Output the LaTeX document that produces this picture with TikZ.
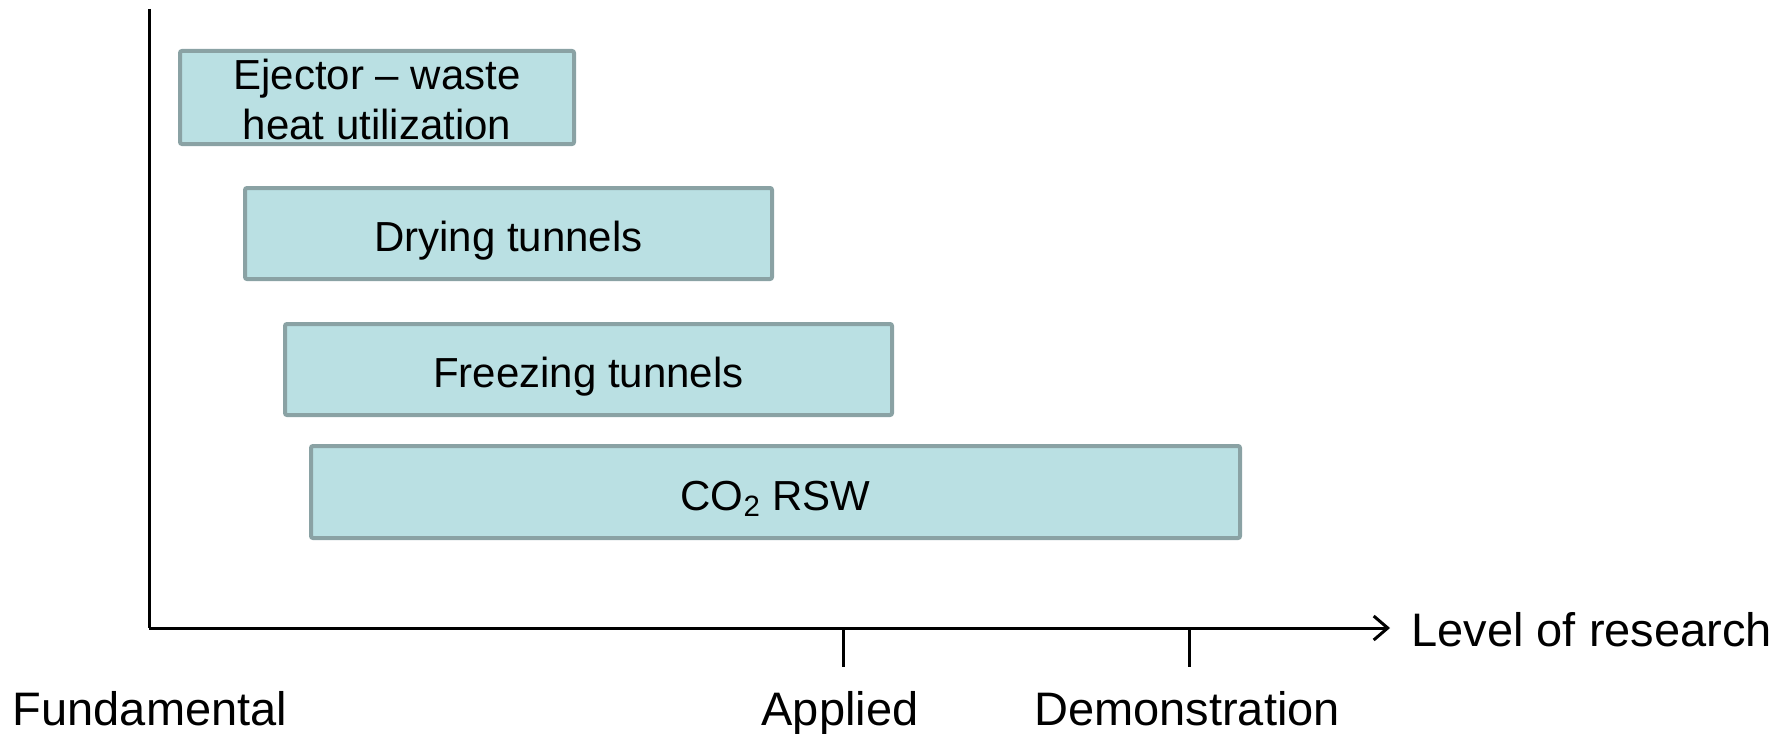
\documentclass[tikz,border=0pt]{standalone}
\usepackage{fontspec}
\setmainfont{Liberation Sans}
\usetikzlibrary{arrows.meta}
\definecolor{barfill}{HTML}{BAE0E3}
\definecolor{barline}{HTML}{8AA2A4}
% sets a label a little below the centre of its bar, keeping its size
\newcommand\droplabel[2][3.4pt]{\raisebox{-#1}[\height][\depth]{#2}}
\tikzset{
  bar/.style={draw=barline, fill=barfill, line width=2pt, rounded corners=1pt,
    inner sep=0pt, align=center, font=\fontsize{21}{25}\selectfont},
  axisline/.style={line width=1.5pt, black},
  axislabel/.style={font=\fontsize{23.5}{28}\selectfont, inner sep=0pt},
}
\begin{document}
\begin{tikzpicture}[x=0.5pt, y=-0.5pt]
  \useasboundingbox (0,0) rectangle (1787,733);

  % research activities
  \node[bar, minimum width=197pt, minimum height=46.5pt] (ejector) at (377,97.5)
    {\droplabel[1pt]{Ejector -- waste}\\\droplabel[1pt]{heat utilization}};
  \node[bar, minimum width=263.5pt, minimum height=45.5pt] (drying) at (508.5,233.5)
    {\droplabel{Drying tunnels}};
  \node[bar, minimum width=303.5pt, minimum height=45.5pt] (freezing) at (588.5,369.5)
    {\droplabel{Freezing tunnels}};
  \node[bar, minimum width=464.5pt, minimum height=46pt] (rsw) at (775.5,492)
    {\droplabel{CO\textsubscript{2} RSW}};

  % axes
  \coordinate (origin) at (149,628);
  \coordinate (ytop) at (149,9);
  \coordinate (xend) at (1390,628);
  \coordinate (tapp) at (843,628);
  \coordinate (tappb) at (843,667);
  \coordinate (tdem) at (1189,628);
  \coordinate (tdemb) at (1189,667);
  \draw[axisline] (ytop) -- (origin);
  \draw[axisline, -{Straight Barb[length=7pt, width=12pt, line width=1.5pt]}] (origin) -- (xend);
  \draw[axisline] (tapp) -- (tappb);
  \draw[axisline] (tdem) -- (tdemb);

  % axis labels
  \node[axislabel, anchor=base west] (level) at (1411,646) {Level of research};
  \node[axislabel, anchor=base] (fund) at (150,725) {Fundamental};
  \node[axislabel, anchor=base] (appl) at (840,725) {Applied};
  \node[axislabel, anchor=base] (demo) at (1187,725) {Demonstration};
\end{tikzpicture}
\end{document}
